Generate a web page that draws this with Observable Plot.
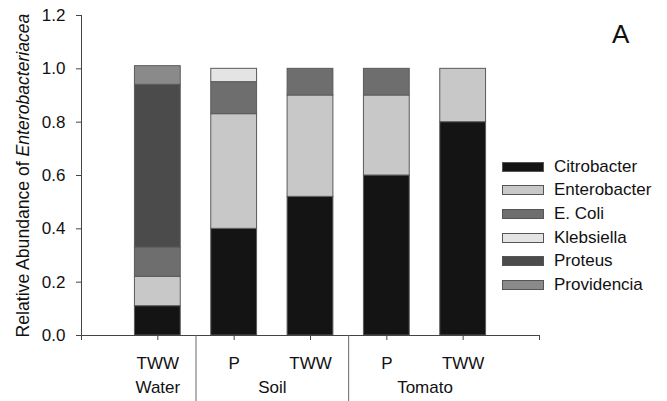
<!DOCTYPE html>
<html>
<head>
<meta charset="utf-8">
<script src="https://cdn.jsdelivr.net/npm/d3@7"></script>
<script src="https://cdn.jsdelivr.net/npm/@observablehq/plot@0.6"></script>
<style>
  html, body { margin: 0; padding: 0; background: #fff; }
  #wrap { position: relative; width: 667px; height: 401px; font-family: "Liberation Sans", Arial, sans-serif; color: #111; }
  #panel { position: absolute; left: 612px; top: 21px; font-size: 26px; line-height: 1; }
  #legend { position: absolute; left: 502px; top: 155px; font-size: 17px; }
  #legend .row { display: flex; align-items: center; height: 23.6px; }
  #legend .sw { width: 40px; height: 8px; border: 1px solid #555; margin-right: 10px; box-sizing: content-box; }
</style>
</head>
<body>
<div id="wrap"></div>
<script>
// ---- data ----
const categoryGroups = ["Water", "Soil", "Soil", "Tomato", "Tomato"];
const treatments = ["TWW", "P", "TWW", "P", "TWW"];
const genera = ["Citrobacter", "Enterobacter", "E. Coli", "Klebsiella", "Proteus", "Providencia"];
const citrobacter  = [0.11, 0.40, 0.52, 0.60, 0.80];
const enterobacter = [0.11, 0.43, 0.38, 0.30, 0.20];
const eColi        = [0.11, 0.12, 0.10, 0.10, 0.00];
const klebsiella   = [0.00, 0.05, 0.00, 0.00, 0.00];
const proteus      = [0.61, 0.00, 0.00, 0.00, 0.00];
const providencia  = [0.07, 0.00, 0.00, 0.00, 0.00];
const genusColors = ["#141414", "#c8c8c8", "#6e6e6e", "#e4e4e4", "#4b4b4b", "#8a8a8a"];
const yTicks = [0, 0.2, 0.4, 0.6, 0.8, 1.0, 1.2];
const yTitleParts = ["Relative Abundance of ", "Enterobacteriacea"];
const panelLabel = "A";

// ---- derived tables ----
const series = [citrobacter, enterobacter, eColi, klebsiella, proteus, providencia];
const positions = treatments.map((_, i) => i + 1);
const rows = [];
positions.forEach((pos, i) => {
  let base = 0;
  genera.forEach((g, j) => {
    const v = series[j][i];
    if (v > 0) rows.push({pos, genus: g, y1: base, y2: base + v});
    base += v;
  });
});
const groupNames = [...new Set(categoryGroups)];
const groups = groupNames.map(name => ({
  name,
  center: d3.mean(positions.filter((p, i) => categoryGroups[i] === name))
}));
const dividers = [];
for (let i = 1; i < positions.length; i++) {
  if (categoryGroups[i] !== categoryGroups[i - 1]) dividers.push((positions[i] + positions[i - 1]) / 2);
}
const xTicks = d3.range(0, positions.length + 2);

// ---- layout ----
const W = 667, H = 401, mT = 15, mB = 66, mL = 81, mR = 128;
const half = 0.3;

const chart = Plot.plot({
  width: W, height: H,
  marginTop: mT, marginBottom: mB, marginLeft: mL, marginRight: mR,
  style: {fontFamily: '"Liberation Sans", Arial, sans-serif', fontSize: "17px", color: "#111", background: "#fff"},
  x: {type: "linear", domain: [0, positions.length + 1]},
  y: {domain: [0, 1.2]},
  color: {type: "ordinal", domain: genera, range: genusColors},
  marks: [
    Plot.rect(rows, {
      x1: d => d.pos - half, x2: d => d.pos + half,
      y1: "y1", y2: "y2", fill: "genus", stroke: "#5a5a5a", strokeWidth: 1
    }),
    Plot.ruleY([0], {stroke: "#444"}),
    Plot.ruleX([0], {stroke: "#444"}),
    Plot.axisY({ticks: yTicks, tickFormat: d3.format(".1f"), tickSize: 5, tickPadding: 11, stroke: "#444", fontSize: 17, label: null}),
    Plot.axisX({ticks: xTicks, tickSize: 5, tickPadding: 16, stroke: "#444", fontSize: 17, label: null,
      tickFormat: d => (d >= 1 && d <= treatments.length) ? treatments[d - 1] : ""}),
    Plot.ruleX(dividers, {x: d => d, insetTop: H - mT - mB, insetBottom: -mB, stroke: "#666"}),
    Plot.text(groups, {x: "center", text: "name", frameAnchor: "bottom", dy: 52, fontSize: 17, lineAnchor: "middle"}),
    Plot.text([yTitleParts.join("")], {frameAnchor: "left", rotate: -90, dx: -58, fontSize: 17.6, textAnchor: "middle", lineAnchor: "middle"})
  ]
});

// italicise the genus name in the y title
d3.select(chart).selectAll("text")
  .filter(function () { return this.textContent === yTitleParts.join(""); })
  .each(function () {
    const t = d3.select(this);
    t.text(null);
    t.append("tspan").text(yTitleParts[0]);
    t.append("tspan").attr("font-style", "italic").text(yTitleParts[1]);
  });

const wrap = document.getElementById("wrap");
wrap.appendChild(chart);

const panel = document.createElement("div");
panel.id = "panel";
panel.textContent = panelLabel;
wrap.appendChild(panel);

const legend = document.createElement("div");
legend.id = "legend";
genera.forEach((g, j) => {
  const row = document.createElement("div");
  row.className = "row";
  const sw = document.createElement("div");
  sw.className = "sw";
  sw.style.background = genusColors[j];
  const lab = document.createElement("span");
  lab.textContent = g;
  row.appendChild(sw);
  row.appendChild(lab);
  legend.appendChild(row);
});
wrap.appendChild(legend);
</script>
</body>
</html>
